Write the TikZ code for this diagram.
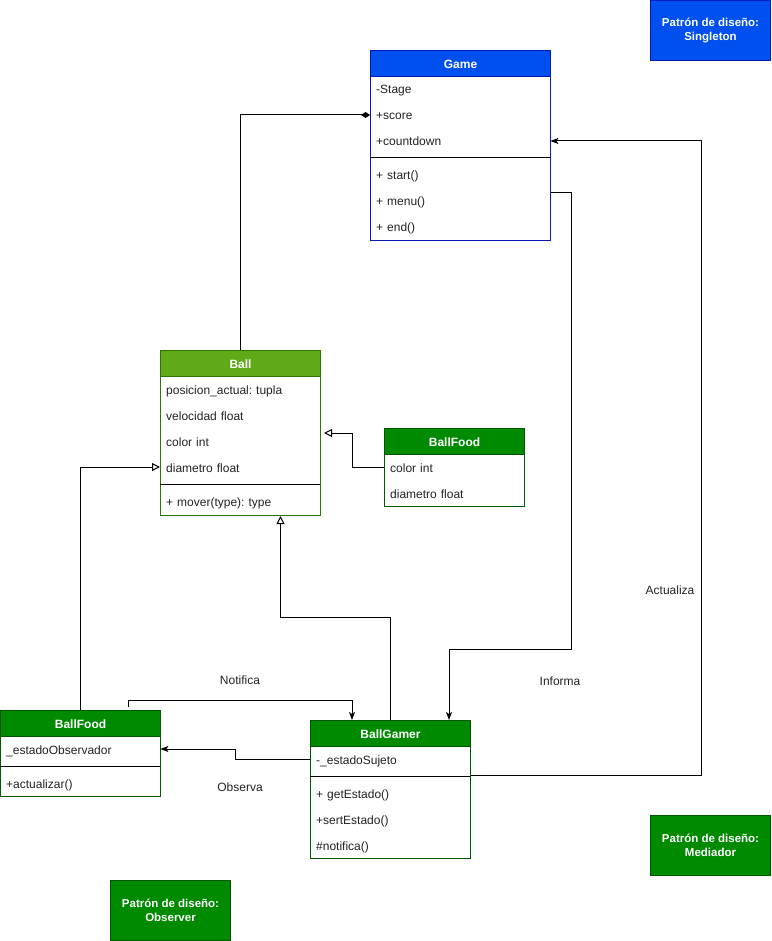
\documentclass[tikz,border=0pt]{standalone}
\usepackage{fontspec}
\setmainfont{Liberation Sans}
\usetikzlibrary{arrows.meta,calc}
\definecolor{blueF}{HTML}{0050EF}
\definecolor{blueD}{HTML}{001DBC}
\definecolor{greenF}{HTML}{008A00}
\definecolor{greenD}{HTML}{005700}
\definecolor{lgreenF}{HTML}{60A917}
\definecolor{lgreenD}{HTML}{2D7600}
\definecolor{txt}{HTML}{222222}
\frenchspacing
\begin{document}
\begin{tikzpicture}[x=1pt,y=-1pt,
  every node/.style={font=\fontsize{12}{14}\selectfont, text=txt},
  box/.style={anchor=north west, inner sep=0pt, line width=1pt},
  hdr/.style={anchor=north west, inner sep=0pt, line width=1pt, minimum height=26pt, text height=12pt, text depth=2pt, text=white, font=\fontsize{12}{14}\selectfont\bfseries},
  row/.style={anchor=west, inner xsep=6pt, inner ysep=0pt, minimum height=26pt, text height=12pt, text depth=2pt, align=left},
  r180/.style={row, text width=168pt},
  r160/.style={row, text width=148pt},
  r140/.style={row, text width=128pt},
  sep/.style={line width=1pt, draw=black},
  conn/.style={line width=1pt, draw=black},
  filled/.style={-{Stealth[length=8pt,width=6pt,inset=2pt]}},
  inh/.style={-{Triangle[open,length=8pt,width=8pt]}},
  lbl/.style={text=txt},
  pattern/.style={anchor=north west, line width=1pt, minimum width=120pt, minimum height=60pt, inner sep=0pt, align=center, text=white, font=\fontsize{11.5}{14}\selectfont\bfseries}
]
\useasboundingbox (0,0) rectangle (771,941);

% ---------- Game ----------
\node[box, draw=blueD, minimum width=180pt, minimum height=190pt] (game) at (370,50) {};
\node[hdr, fill=blueF, draw=blueD, minimum width=180pt] (game-h) at (370,50) {Game};
\node[r180] (game-stage) at (370,89) {-Stage};
\node[r180] (game-score) at (370,115) {+score};
\node[r180] (game-count) at (370,141) {+countdown};
\draw[sep] (370,158) -- (550,158);
\node[r180] (game-start) at (370,175) {+ start()};
\node[r180] (game-menu) at (370,201) {+ menu()};
\node[r180] (game-end) at (370,227) {+ end()};

% ---------- Ball ----------
\node[box, draw=lgreenD, minimum width=160pt, minimum height=165pt] (ball) at (160,350) {};
\node[hdr, fill=lgreenF, draw=lgreenD, minimum width=160pt] (ball-h) at (160,350) {Ball};
\node[r160] (ball-pos) at (160,389) {posicion\_actual: tupla};
\node[r160] (ball-vel) at (160,415) {velocidad float};
\node[r160] (ball-col) at (160,441) {color int};
\node[r160] (ball-diam) at (160,467) {diametro float};
\draw[sep] (160,484) -- (320,484);
\node[r160] (ball-mov) at (160,501) {+ mover(type): type};

% ---------- BallFood (right) ----------
\node[box, draw=greenD, minimum width=140pt, minimum height=78pt] (bfr) at (384,428) {};
\node[hdr, fill=greenF, draw=greenD, minimum width=140pt] (bfr-h) at (384,428) {BallFood};
\node[r140] (bfr-col) at (384,467) {color int};
\node[r140] (bfr-diam) at (384,493) {diametro float};

% ---------- BallFood (left) ----------
\node[box, draw=greenD, minimum width=160pt, minimum height=86pt] (bfl) at (0,710) {};
\node[hdr, fill=greenF, draw=greenD, minimum width=160pt] (bfl-h) at (0,710) {BallFood};
\node[r160] (bfl-obs) at (0,749) {\_estadoObservador};
\draw[sep] (0,766) -- (160,766);
\node[r160] (bfl-act) at (0,783) {+actualizar()};

% ---------- BallGamer ----------
\node[box, draw=greenD, minimum width=160pt, minimum height=138pt] (gamer) at (310,720) {};
\node[hdr, fill=greenF, draw=greenD, minimum width=160pt] (gamer-h) at (310,720) {BallGamer};
\node[r160] (gamer-suj) at (310,759) {-\_estadoSujeto};
\draw[sep] (310,776) -- (470,776);
\node[r160] (gamer-get) at (310,793) {+ getEstado()};
\node[r160] (gamer-set) at (310,819) {+sertEstado()};
\node[r160] (gamer-not) at (310,845) {\#notifica()};

% ---------- Pattern boxes ----------
\node[pattern, fill=blueF, draw=blueD] (p-single) at (650,0) {Patrón de diseño:\\Singleton};
\node[pattern, fill=greenF, draw=greenD] (p-med) at (650,815) {Patrón de diseño:\\Mediador};
\node[pattern, fill=greenF, draw=greenD] (p-obs) at (110,880) {Patrón de diseño:\\Observer};

% ---------- connection points ----------
\coordinate (menuOut) at ($(game.north east)+(0,143)$);
\coordinate (gamerIn) at ($(gamer.north west)+(139,0)$);
\coordinate (gamerOut) at ($(gamer.north east)+(0,55)$);
\coordinate (ballBot) at ($(ball.south)+(40,0)$);
\coordinate (ballRIn) at ($(ball.north east)+(3,83)$);
\coordinate (notifOut) at ($(bfl.north west)+(128,-3)$);
\coordinate (notifIn) at ($(gamer.north west)+(42,0)$);

% ---------- connectors ----------
\draw[conn, {Diamond[length=9pt,width=6pt]}-] (game-score.west) -| (ball.north);
\draw[conn, filled] (menuOut) -- ++(20,0) -- ++(0,456) -| (gamerIn);
\draw[conn, filled] (gamerOut) -- ++(230,0) |- (game-count.east);
\draw[conn, inh] (gamer.north) -- ++(0,-103) -| (ballBot);
\draw[conn, inh] (bfr-col.west) -- ++(-32,0) |- (ballRIn);
\draw[conn, inh] (bfl.north) |- (ball-diam.west);
\draw[conn, filled] (notifOut) -- ++(0,-7) -| (notifIn);
\draw[conn, filled] (gamer-suj.west) -- ++(-75,0) |- (bfl-obs.east);

% ---------- labels ----------
\node[lbl] (l-notif) at (240,680) {Notifica};
\node[lbl] (l-inf) at (560,681) {Informa};
\node[lbl] (l-act) at (670,590) {Actualiza};
\node[lbl] (l-obs) at (240,787) {Observa};
\end{tikzpicture}
\end{document}
